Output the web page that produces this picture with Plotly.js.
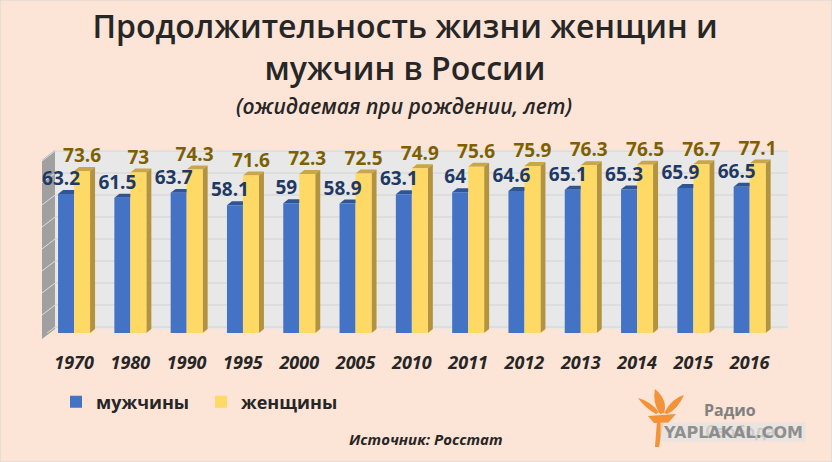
<!DOCTYPE html>
<html>
<head>
<meta charset="utf-8">
<script src="https://cdn.plot.ly/plotly-3.0.1.min.js"></script>
<style>
  html, body { margin: 0; padding: 0; background: #fce4d6; }
  #chart { width: 832px; height: 462px; }
</style>
</head>
<body>
<div id="chart"></div>
<script>
// Life expectancy at birth, Russia (Rosstat)
const years = ['1970', '1980', '1990', '1995', '2000', '2005', '2010', '2011', '2012', '2013', '2014', '2015', '2016'];
const men = [63.2, 61.5, 63.7, 58.1, 59, 58.9, 63.1, 64, 64.6, 65.1, 65.3, 65.9, 66.5];
const women = [73.6, 73, 74.3, 71.6, 72.3, 72.5, 74.9, 75.6, 75.9, 76.3, 76.5, 76.7, 77.1];
const gridVals = [0, 10, 20, 30, 40, 50, 60, 70, 80];

const W = 832, H = 462;
const px = (x) => x / W;
const py = (y) => 1 - y / H;

const idx = years.map((_, i) => i);
const barW = 0.284;
const dx = 0.089;   // bar depth, in category units (~5px)
const dy = 1.8;     // bar depth, in years (~4px)
const wallDy = 2.7; // back wall sits a little higher

const font = 'Open Sans, Noto Sans, sans-serif';

const traces = [
  {
    type: 'bar', name: 'мужчины', x: idx, y: men,
    width: barW, offset: -barW,
    marker: { color: '#4472c4' }, hoverinfo: 'skip'
  },
  {
    type: 'bar', name: 'женщины', x: idx, y: women,
    width: barW, offset: 0,
    marker: { color: '#ffd966' }, hoverinfo: 'skip'
  },
  {
    type: 'scatter', mode: 'text', showlegend: false,
    x: idx.map((i) => i - 0.23), y: men.map((v) => v + dy),
    text: men.map(String), textposition: 'top center',
    textfont: { family: font, size: 19, weight: 700, color: '#1f3864' },
    cliponaxis: false, hoverinfo: 'skip'
  },
  {
    type: 'scatter', mode: 'text', showlegend: false,
    x: idx.map((i) => i + barW / 2), y: women.map((v) => v + dy),
    text: women.map(String), textposition: 'top center',
    textfont: { family: font, size: 19, weight: 700, color: '#7f6000' },
    cliponaxis: false, hoverinfo: 'skip'
  }
];

const shapes = [];

// back wall
shapes.push({
  type: 'rect', xref: 'paper', yref: 'paper', layer: 'below',
  x0: px(55), x1: px(788), y0: py(329), y1: py(150),
  fillcolor: '#e8e8e8', line: { width: 0 }
});
// left side wall
shapes.push({
  type: 'path', xref: 'paper', yref: 'paper', layer: 'below',
  path: `M${px(42)},${py(160)} L${px(55)},${py(150)} L${px(55)},${py(329)} L${px(42)},${py(339)} Z`,
  fillcolor: '#a0a0a0', line: { width: 0 }
});
gridVals.forEach((g) => {
  shapes.push({
    type: 'line', xref: 'paper', yref: 'y', layer: 'below',
    x0: px(55), x1: px(788), y0: g + wallDy, y1: g + wallDy,
    line: { color: '#d3d3d3', width: 1 }
  });
  shapes.push({
    type: 'line', xref: 'paper', yref: 'y', layer: 'below',
    x0: px(42), x1: px(55), y0: g + wallDy - 4.5, y1: g + wallDy,
    line: { color: '#dedede', width: 1 }
  });
});

// 3d tops and sides of the bars
idx.forEach((i) => {
  const m = men[i], w = women[i];
  const bl = i - barW, br = i;
  shapes.push({
    type: 'path', xref: 'x', yref: 'y', layer: 'below',
    path: `M${bl},${m} L${bl + dx},${m + dy} L${br + dx},${m + dy} L${br},${m} Z`,
    fillcolor: '#2f5597', line: { width: 0 }
  });
  const yl = i, yr = i + barW;
  shapes.push({
    type: 'path', xref: 'x', yref: 'y', layer: 'below',
    path: `M${yl},${w} L${yl + dx},${w + dy} L${yr + dx},${w + dy} L${yr},${w} Z`,
    fillcolor: '#c9a648', line: { width: 0 }
  });
  shapes.push({
    type: 'path', xref: 'x', yref: 'y', layer: 'below',
    path: `M${yr},0 L${yr + dx},${dy} L${yr + dx},${w + dy} L${yr},${w} Z`,
    fillcolor: '#b3943c', line: { width: 0 }
  });
});

// Radio Svoboda torch (rough)
const orange = '#f39237';
shapes.push({
  type: 'path', xref: 'paper', yref: 'paper', layer: 'above',
  path: `M${px(655)},${py(447)} L${px(659)},${py(447)} L${px(664)},${py(421)} L${px(657)},${py(421)} Z`,
  fillcolor: orange, line: { width: 0 }
});
shapes.push({
  type: 'path', xref: 'paper', yref: 'paper', layer: 'above',
  path: `M${px(648)},${py(416)} L${px(676)},${py(414)} L${px(668)},${py(423)} L${px(654)},${py(423)} Z`,
  fillcolor: orange, line: { width: 0 }
});
shapes.push({
  type: 'path', xref: 'paper', yref: 'paper', layer: 'above',
  path: `M${px(660)},${py(414)} Q${px(652)},${py(402)} ${px(655)},${py(389)} Q${px(668)},${py(400)} ${px(664)},${py(413)} Z`,
  fillcolor: orange, line: { width: 0 }
});
shapes.push({
  type: 'path', xref: 'paper', yref: 'paper', layer: 'above',
  path: `M${px(664)},${py(413)} Q${px(672)},${py(398)} ${px(684)},${py(395)} Q${px(678)},${py(409)} ${px(667)},${py(414)} Z`,
  fillcolor: orange, line: { width: 0 }
});
shapes.push({
  type: 'path', xref: 'paper', yref: 'paper', layer: 'above',
  path: `M${px(656)},${py(414)} Q${px(645)},${py(408)} ${px(638)},${py(398)} Q${px(650)},${py(401)} ${px(659)},${py(412)} Z`,
  fillcolor: orange, line: { width: 0 }
});
// outer border
shapes.push({
  type: 'rect', xref: 'paper', yref: 'paper', layer: 'above',
  x0: 0, x1: 1, y0: 0, y1: 1,
  line: { color: '#d4d4d4', width: 1 }
});

const note = (x, y, text, f) => ({
  xref: 'paper', yref: 'paper', x: px(x), y: py(y),
  xanchor: 'center', yanchor: 'middle', showarrow: false, text: text, font: f
});

const annotations = [
  note(404, 106, '(ожидаемая при рождении, лет)',
    { family: font, size: 21, style: 'italic', weight: 600, color: '#262626' }),
  note(426, 439, 'Источник: Росстат',
    { family: font, size: 15, style: 'italic', weight: 700, color: '#262626' }),
  note(730, 410, 'Радио',
    { family: font, size: 16, weight: 700, color: '#808080' }),
  note(740, 431, 'Свобода',
    { family: font, size: 16, weight: 700, color: '#808080' }),
  Object.assign(note(733, 432, 'YAPLAKAL.COM',
    { family: 'DejaVu Sans, sans-serif', size: 16, weight: 700, color: 'rgba(120,120,120,0.8)' }),
    { bgcolor: 'rgba(228,228,228,0.75)', width: 142, height: 16 })
];

const layout = {
  width: W, height: H,
  margin: { l: 0, r: 0, t: 0, b: 0 },
  paper_bgcolor: '#fce4d6',
  plot_bgcolor: 'rgba(0,0,0,0)',
  barmode: 'overlay',
  title: {
    text: 'Продолжительность жизни женщин и<br>мужчин в России',
    x: px(405), xanchor: 'center', xref: 'paper',
    y: py(38), yanchor: 'top', yref: 'paper',
    font: { family: font, size: 32, weight: 600, color: '#262626' }
  },
  xaxis: {
    domain: [px(45.9), px(777.8)],
    range: [-0.5, 12.5],
    tickvals: idx, ticktext: years,
    showgrid: false, zeroline: false, showline: false, ticks: '',
    ticklabelstandoff: 17,
    tickfont: { family: font, size: 18, weight: 700, style: 'italic', color: '#262626' }
  },
  yaxis: {
    domain: [py(333), py(150.4)],
    range: [0, 83],
    showgrid: false, zeroline: false, showline: false, showticklabels: false, ticks: ''
  },
  legend: {
    orientation: 'h', x: px(56), xanchor: 'left', y: py(402), yanchor: 'middle',
    bgcolor: 'rgba(0,0,0,0)',
    entrywidth: 100,
    font: { family: font, size: 18, weight: 700, color: '#262626' },
    itemclick: false, itemdoubleclick: false
  },
  shapes: shapes,
  annotations: annotations,
  showlegend: true
};

Plotly.newPlot('chart', traces, layout, { displayModeBar: false, staticPlot: true });
</script>
</body>
</html>
